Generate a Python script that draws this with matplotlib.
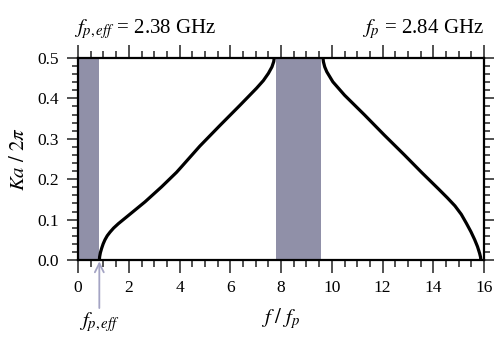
import numpy as np
import matplotlib.pyplot as plt
from matplotlib.ticker import MultipleLocator

plt.rcParams['font.family'] = ['Liberation Serif', 'DejaVu Serif']
plt.rcParams['mathtext.fontset'] = 'stix'

fp = 2.84
fp_eff = 2.38

# lower pass band (f/fp, Ka/2pi)
band1_f = [0.84, 0.85, 0.88, 0.93, 0.99, 1.06, 1.15, 1.26, 1.40, 1.59, 1.98, 2.64,
           3.29, 3.88, 4.08, 4.80, 5.59, 6.38, 7.03, 7.30, 7.50, 7.64, 7.71, 7.73]
band1_k = [0.0, 0.008, 0.018, 0.029, 0.040, 0.050, 0.060, 0.069, 0.079, 0.090, 0.110, 0.144,
           0.181, 0.217, 0.231, 0.282, 0.333, 0.383, 0.425, 0.444, 0.462, 0.478, 0.491, 0.5]

# upper pass band
band2_f = [9.65, 9.67, 9.72, 9.80, 10.04, 10.50, 11.29, 12.07, 12.86, 13.55, 14.20,
           14.55, 14.85, 15.10, 15.30, 15.48, 15.63, 15.74, 15.82, 15.86, 15.87]
band2_k = [0.5, 0.490, 0.478, 0.466, 0.441, 0.408, 0.359, 0.309, 0.260, 0.216, 0.176,
           0.154, 0.134, 0.113, 0.091, 0.070, 0.050, 0.033, 0.017, 0.007, 0.0]

# stop bands
gaps = [(0.0, fp_eff / fp), (7.78, 9.58)]

fig = plt.figure(figsize=(4.94, 3.38), dpi=100)
ax = fig.add_axes([0.158, 0.2308, 0.822, 0.5976])

for lo, hi in gaps:
    ax.axvspan(lo, hi, ymin=0, ymax=1, color='#9090a8', lw=0)

ax.plot(band1_f, band1_k, color='black', lw=2.3, solid_capstyle='round', solid_joinstyle='round')
ax.plot(band2_f, band2_k, color='black', lw=2.3, solid_capstyle='round', solid_joinstyle='round')

ax.set_xlim(0, 16)
ax.set_ylim(0, 0.5)
ax.xaxis.set_major_locator(MultipleLocator(2))
ax.xaxis.set_minor_locator(MultipleLocator(0.5))
ax.yaxis.set_major_locator(MultipleLocator(0.1))
ax.yaxis.set_minor_locator(MultipleLocator(0.02))
ax.yaxis.set_major_formatter(plt.FormatStrFormatter('%.1f'))

ax.tick_params(which='both', direction='out', top=True, right=True,
               labelsize=12.5, width=1.1, color='#222222')
ax.tick_params(axis='x', which='major', length=9.5, pad=5)
ax.tick_params(axis='x', which='minor', length=5)
ax.tick_params(axis='y', which='major', length=8, pad=6)
ax.tick_params(axis='y', which='minor', length=4.5)
for s in ax.spines.values():
    s.set_linewidth(1.6)

ax.set_xlabel(r'$f\ /\ f_p$', fontsize=15, labelpad=7)
ax.set_ylabel(r'$Ka\ /\ 2\pi$', fontsize=15, labelpad=6)

ax.text(-0.01, 1.085, r'$f_{p,eff}$ = 2.38 GHz', transform=ax.transAxes,
        fontsize=15, ha='left', va='bottom')
ax.text(1.0, 1.085, r'$f_p$ = 2.84 GHz', transform=ax.transAxes,
        fontsize=15, ha='right', va='bottom')

ax.annotate('', xy=(fp_eff / fp, 0), xytext=(fp_eff / fp, -0.119),
            annotation_clip=False,
            arrowprops=dict(arrowstyle='->', color='#a4a4c4', lw=1.3,
                            shrinkA=0, shrinkB=1, mutation_scale=16))
ax.text(fp_eff / fp, -0.153, r'$f_{p,eff}$', fontsize=15,
        ha='center', va='center', clip_on=False)

fig.savefig('out.png', dpi=100)
